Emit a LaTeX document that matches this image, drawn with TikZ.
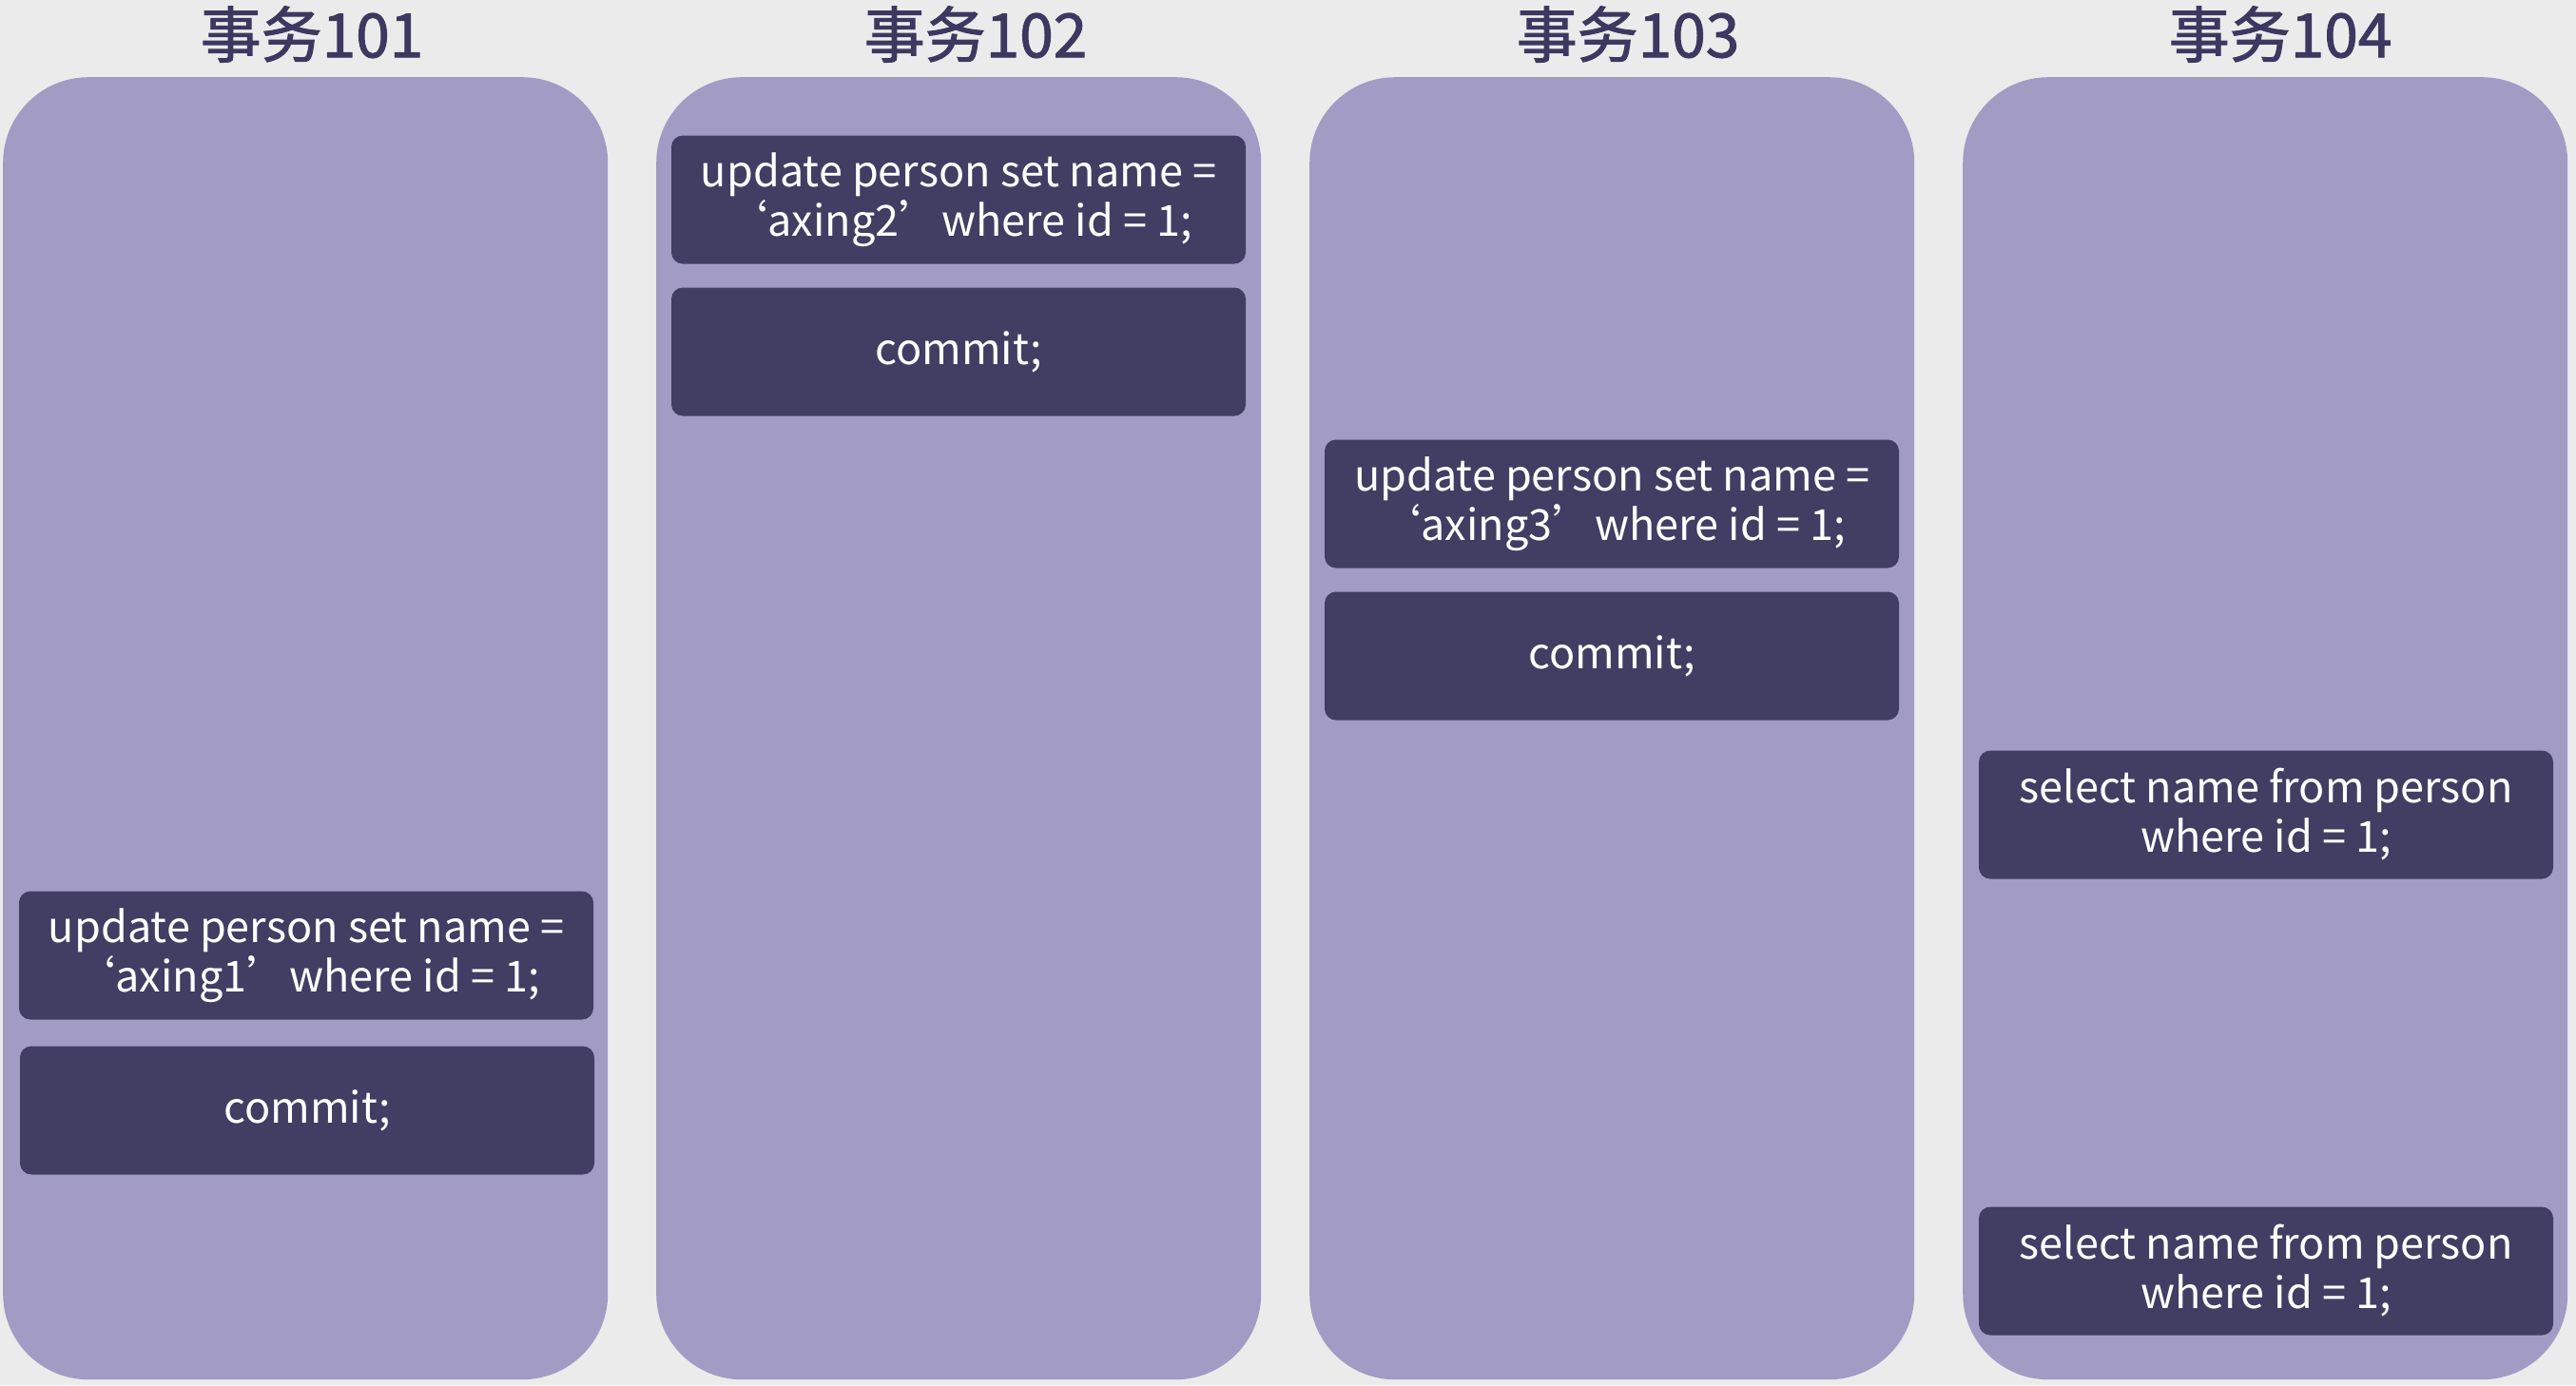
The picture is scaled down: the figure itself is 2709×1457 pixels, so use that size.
\documentclass[tikz,border=0pt]{standalone}
\usepackage{fontspec}
\setmainfont{Noto Sans CJK SC}
\newfontfamily\hdfont[FakeBold=1.5]{Noto Sans CJK SC}
\definecolor{bgc}{HTML}{EBEBEB}
\definecolor{colc}{HTML}{A29BC4}
\definecolor{boxc}{HTML}{423D63}
\definecolor{hdc}{HTML}{3D3860}
\tikzset{
  lane/.style={draw=none, fill=colc, rounded corners=90pt, minimum width=636pt, minimum height=1370pt, anchor=north west, inner sep=0pt},
  sqlbox/.style={draw=none, fill=boxc, rounded corners=12pt, minimum width=604pt, minimum height=135pt, text=white, align=center, font=\fontsize{45}{52}\selectfont, inner sep=0pt},
  header/.style={text=hdc, font=\hdfont\fontsize{64}{70}\selectfont, inner sep=0pt}
}
\begin{document}
\begin{tikzpicture}[x=1pt,y=-1pt]
\fill[bgc] (0,0) rectangle (2709,1457);
\useasboundingbox (0,0) rectangle (2709,1457);
\node[lane] (col1) at (3,81) {};
\node[lane] (col2) at (690,81) {};
\node[lane] (col3) at (1377,81) {};
\node[lane] (col4) at (2064,81) {};
\node[header] (h1) at (328,36) {事务101};
\node[header] (h2) at (1026,36) {事务102};
\node[header] (h3) at (1712,36) {事务103};
\node[header] (h4) at (2398,36) {事务104};
\node[sqlbox] (u1) at (322,1005) {update person set name =\\‘axing1’where id = 1;};
\node[sqlbox] (c1) at (323,1168) {commit;};
\node[sqlbox] (u2) at (1008,210) {update person set name =\\‘axing2’where id = 1;};
\node[sqlbox] (c2) at (1008,370) {commit;};
\node[sqlbox] (u3) at (1695,530) {update person set name =\\‘axing3’where id = 1;};
\node[sqlbox] (c3) at (1695,690) {commit;};
\node[sqlbox] (s1) at (2383,857) {select name from person\\where id = 1;};
\node[sqlbox] (s2) at (2383,1337) {select name from person\\where id = 1;};
\end{tikzpicture}
\end{document}
